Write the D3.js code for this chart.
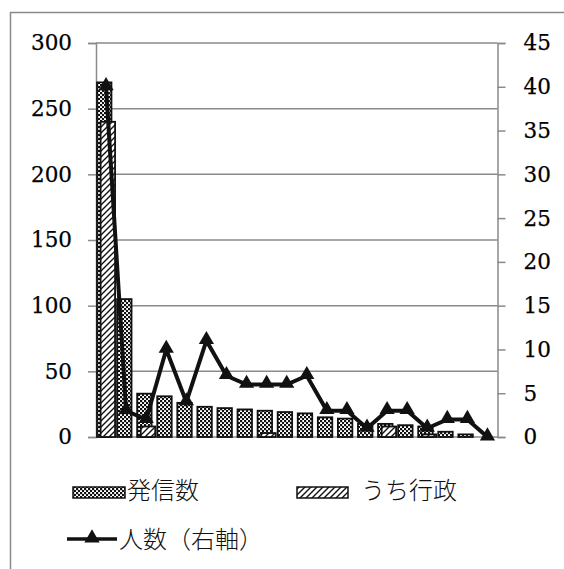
<!DOCTYPE html>
<html><head><meta charset="utf-8">
<script src="https://cdn.jsdelivr.net/npm/d3@7"></script>
<style>html,body{margin:0;padding:0;background:#fff;}svg{display:block;}</style>
</head><body>
<script>
const categories = d3.range(1, 21).map(String);
const sent = [270, 105, 33, 31, 26, 23, 22, 21, 20, 19, 18, 15, 14, 10, 10, 9, 8, 4, 2, 0];
const gov = [240, 0, 8, 0, 0, 0, 0, 0, 3, 0, 0, 0, 0, 0, 8, 0, 2, 0, 0, 0];
const people = [40, 3, 2, 10, 4, 11, 7, 6, 6, 6, 7, 3, 3, 1, 3, 3, 1, 2, 2, 0];
const leftTicks = [0, 50, 100, 150, 200, 250, 300];
const rightTicks = [0, 5, 10, 15, 20, 25, 30, 35, 40, 45];
const seriesNames = ["発信数", "うち行政", "人数（右軸）"];

const W = 564, H = 569;
const L = 96, R = 497.5, T = 43, B = 437;
const grey = "#8a8a8a";
const svg = d3.select("body").append("svg").attr("width", W).attr("height", H);

const defs = svg.append("defs");
const chk = defs.append("pattern").attr("id", "chk").attr("patternUnits", "userSpaceOnUse")
  .attr("width", 4).attr("height", 4);
chk.append("rect").attr("width", 4).attr("height", 4).attr("fill", "#fff");
chk.append("rect").attr("width", 2.2).attr("height", 2.2).attr("fill", "#111");
chk.append("rect").attr("x", 2).attr("y", 2).attr("width", 2.2).attr("height", 2.2).attr("fill", "#111");
const hat = defs.append("pattern").attr("id", "hat").attr("patternUnits", "userSpaceOnUse")
  .attr("width", 6).attr("height", 6);
hat.append("rect").attr("width", 6).attr("height", 6).attr("fill", "#fff");
hat.append("path").attr("d", "M-1,7 L7,-1 M-4,4 L4,-4 M2,10 L10,2").attr("stroke", "#111").attr("stroke-width", 1.4);

// outer frame
svg.append("rect").attr("x", 10.5).attr("y", 12.5).attr("width", 600).attr("height", 600)
  .attr("fill", "none").attr("stroke", grey).attr("stroke-width", 1.5);

const x = d3.scaleBand().domain(categories).range([L, R]).padding(0);
const yL = d3.scaleLinear().domain([0, 300]).range([B, T]);
const yR = d3.scaleLinear().domain([0, 45]).range([B, T]);
const bw = x.bandwidth();

// gridlines
svg.append("g").selectAll("line").data(leftTicks.filter(d => d > 0)).join("line")
  .attr("x1", L).attr("x2", R).attr("y1", d => yL(d)).attr("y2", d => yL(d))
  .attr("stroke", grey).attr("stroke-width", 1.5);

// axes
const axL = svg.append("g").attr("transform", `translate(${L},0)`)
  .call(d3.axisLeft(yL).tickValues(leftTicks).tickSize(8).tickPadding(16));
const axR = svg.append("g").attr("transform", `translate(${R},0)`)
  .call(d3.axisRight(yR).tickValues(rightTicks).tickSize(8).tickPadding(18));
[axL, axR].forEach(g => {
  g.select(".domain").attr("stroke", grey).attr("stroke-width", 1.5);
  g.selectAll(".tick line").attr("stroke", grey).attr("stroke-width", 1.5);
  g.selectAll(".tick text").attr("fill", "#000").attr("font-family", "'DejaVu Serif', serif")
    .attr("font-size", 21.5).attr("stroke", "#000").attr("stroke-width", 0.25);
});
svg.append("line").attr("x1", L).attr("x2", R).attr("y1", B).attr("y2", B)
  .attr("stroke", grey).attr("stroke-width", 1.5);

// bars
svg.append("g").selectAll("rect").data(categories).join("rect")
  .attr("x", (c) => x(c) + bw * 0.05).attr("width", bw * 0.72)
  .attr("y", (c, i) => yL(sent[i])).attr("height", (c, i) => B - yL(sent[i]))
  .attr("fill", "url(#chk)").attr("stroke", "#111").attr("stroke-width", 1.8)
  .attr("display", (c, i) => sent[i] > 0 ? null : "none");
svg.append("g").selectAll("rect").data(categories).join("rect")
  .attr("x", (c) => x(c) + bw * 0.23).attr("width", bw * 0.72)
  .attr("y", (c, i) => yL(gov[i])).attr("height", (c, i) => B - yL(gov[i]))
  .attr("fill", "url(#hat)").attr("stroke", "#111").attr("stroke-width", 1.8)
  .attr("display", (c, i) => gov[i] > 0 ? null : "none");

// line
const tri = d3.symbol().type(d3.symbolTriangle).size(100);
const line = d3.line().x((d, i) => x(categories[i]) + bw / 2).y(d => yR(d));
svg.append("path").datum(people).attr("d", line).attr("fill", "none")
  .attr("stroke", "#111").attr("stroke-width", 4).attr("stroke-linejoin", "miter");
svg.append("g").selectAll("path").data(people).join("path")
  .attr("d", tri).attr("transform", (d, i) => `translate(${x(categories[i]) + bw / 2},${yR(d) - 1})`)
  .attr("fill", "#111");

// legend
const lf = "'Noto Sans CJK JP', sans-serif";
const lg = svg.append("g").attr("font-family", lf).attr("font-size", 24).attr("font-weight", 300).attr("fill", "#111");
lg.append("rect").attr("x", 73).attr("y", 487).attr("width", 52).attr("height", 11)
  .attr("fill", "url(#chk)").attr("stroke", "#111").attr("stroke-width", 1.5);
lg.append("text").attr("x", 127).attr("y", 499).text(seriesNames[0]);
lg.append("rect").attr("x", 297).attr("y", 487).attr("width", 51).attr("height", 11)
  .attr("fill", "url(#hat)").attr("stroke", "#111").attr("stroke-width", 1.5);
lg.append("text").attr("x", 361).attr("y", 499).text(seriesNames[1]);
lg.append("line").attr("x1", 67).attr("x2", 117).attr("y1", 539).attr("y2", 539)
  .attr("stroke", "#111").attr("stroke-width", 3.5);
lg.append("path").attr("d", tri).attr("transform", "translate(92,538)").attr("fill", "#111");
lg.append("text").attr("x", 119).attr("y", 548).text(seriesNames[2]);
</script>
</body></html>
